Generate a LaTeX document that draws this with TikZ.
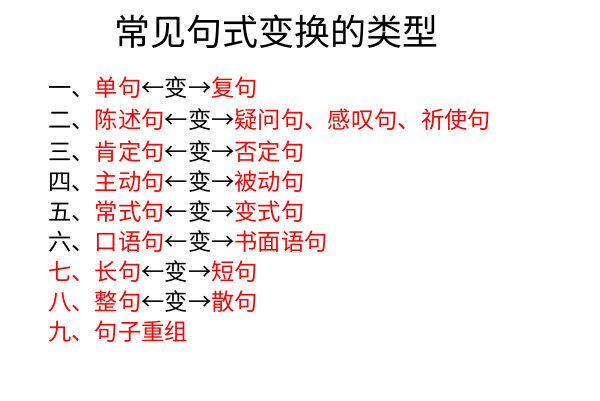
\documentclass[tikz,border=0pt]{standalone}
\usepackage{fontspec}
\newfontfamily\cjk{Noto Sans CJK SC}
\usepackage{xcolor}
\definecolor{itemred}{RGB}{255,0,0}

\begin{document}
\begin{tikzpicture}[x=1pt,y=-1pt,
  every node/.style={inner sep=0pt,anchor=west,font=\cjk\fontsize{23.3}{25}\selectfont}]

  \useasboundingbox (0,0) rectangle (600,400);

  \def \r #1{\textcolor{itemred}{#1}}
  \def \sw {←变→}

  % title
  \node[anchor=center,font=\cjk\fontsize{36}{39}\selectfont] (title) at (276,32) {常见句式变换的类型};

  % items
  \node (l1) at (48,88)  {一、\r{单句}\sw\r{复句}};
  \node (l2) at (48,120) {二、\r{陈述句}\sw\r{疑问句、感叹句、祈使句}};
  \node (l3) at (48,152) {三、\r{肯定句}\sw\r{否定句}};
  \node (l4) at (48,182) {四、\r{主动句}\sw\r{被动句}};
  \node (l5) at (48,212) {五、\r{常式句}\sw\r{变式句}};
  \node (l6) at (48,242) {六、\r{口语句}\sw\r{书面语句}};
  \node (l7) at (48,272) {\r{七、长句}\sw\r{短句}};
  \node (l8) at (48,302) {\r{八、整句}\sw\r{散句}};
  \node (l9) at (48,332) {\r{九、句子重组}};

\end{tikzpicture}
\end{document}
